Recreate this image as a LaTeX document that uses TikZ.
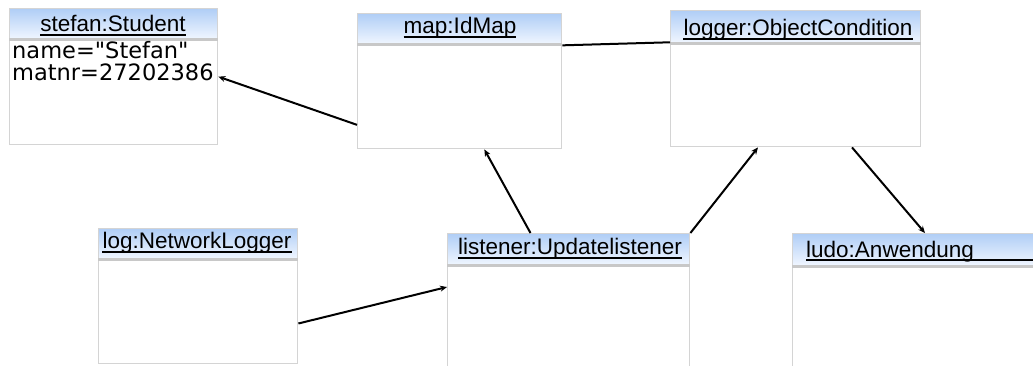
\documentclass[tikz,border=0pt]{standalone}
\usepackage{fontspec}
\setmainfont{Liberation Sans}
\newfontfamily\attrfont{DejaVu Sans}
\usetikzlibrary{arrows.meta,calc}

\definecolor{boxgray}{RGB}{212,212,212}
\definecolor{sepgray}{RGB}{200,200,200}
\definecolor{hdrtop}{RGB}{176,206,246}
\definecolor{hdrbot}{RGB}{240,246,255}

\tikzset{
  objbox/.style={draw=boxgray, line width=1.4pt, fill=white, inner sep=0pt,
    anchor=north west},
  hdr/.style={draw=boxgray, line width=1.4pt, top color=hdrtop, bottom color=hdrbot,
    inner sep=0pt, anchor=north west},
  sepline/.style={draw=sepgray, line width=3pt},
  hdrtext/.style={inner sep=0pt, anchor=base,
    font=\fontsize{22.5}{22}\selectfont},
  attrtext/.style={inner sep=0pt, anchor=base west,
    font=\attrfont\fontsize{22.5}{22}\selectfont},
  uline/.style={line width=1.8pt, black},
  link/.style={line width=2pt, black},
  nav/.style={link, -{Stealth[length=7pt,width=6pt]}},
}

\begin{document}
\begin{tikzpicture}[x=1pt, y=-1pt]
\useasboundingbox (0,0) rectangle (1033,365);
\clip (0,0) rectangle (1033,365);

% object boxes
\node[objbox, minimum width=208pt, minimum height=136pt] (stefan) at (9,8) {};
\node[objbox, minimum width=204pt, minimum height=135pt] (map) at (357,13) {};
\node[objbox, minimum width=250pt, minimum height=136pt] (logger) at (670,10) {};
\node[objbox, minimum width=199pt, minimum height=135pt] (log) at (98,228) {};
\node[objbox, minimum width=242pt, minimum height=150pt] (listener) at (447,233) {};
\node[objbox, minimum width=260pt, minimum height=150pt] (ludo) at (792,233) {};

% header bars
\node[hdr, minimum width=208pt, minimum height=30pt] (stefan-h) at (9,8) {};
\node[hdr, minimum width=204pt, minimum height=30pt] (map-h) at (357,13) {};
\node[hdr, minimum width=250pt, minimum height=32pt] (logger-h) at (670,10) {};
\node[hdr, minimum width=199pt, minimum height=30pt] (log-h) at (98,228) {};
\node[hdr, minimum width=242pt, minimum height=31pt] (listener-h) at (447,233) {};
\node[hdr, minimum width=260pt, minimum height=32pt] (ludo-h) at (792,233) {};

\foreach \h in {stefan-h, map-h, logger-h, log-h, listener-h, ludo-h}
  \draw[sepline] (\h.south west) -- (\h.south east);

% object names
\node[hdrtext] (stefan-t) at (113,31) {stefan:Student};
\node[hdrtext] (map-t) at (460,33) {map:IdMap};
\node[hdrtext] (logger-t) at (798,35) {logger:ObjectCondition};
\node[hdrtext] (log-t) at (197,248) {log:NetworkLogger};
\node[hdrtext] (listener-t) at (570,254) {listener:Updatelistener};
\node[hdrtext, anchor=base west] (ludo-t) at (806,257) {ludo:Anwendung};

\foreach \t in {stefan-t, map-t, logger-t, log-t, listener-t}
  \draw[uline] ([yshift=-4pt]\t.base west) -- ([yshift=-4pt]\t.base east);
\draw[uline] ([yshift=-3pt]ludo-t.base west) -- ([yshift=-3pt]ludo-t.base west -| ludo.east);

% attribute values
\node[attrtext] (stefan-a1) at (12,58) {name="Stefan"};
\node[attrtext] (stefan-a2) at (12,80) {matnr=27202386};

% links
\draw[nav] ($(map.north west)!0.82!(map.south west)$) -- (stefan.east);
\draw[link] ($(map.north east)!0.237!(map.south east)$)
  -- ($(logger.north west)!0.235!(logger.south west)$);
\draw[nav] ($(listener.north west)!0.343!(listener.north east)$)
  -- ($(map.south west)!0.62!(map.south east)$);
\draw[nav] (listener.north east) -- ($(logger.south west)!0.35!(logger.south east)$);
\draw[nav] ($(logger.south west)!0.724!(logger.south east)$)
  -- ([xshift=133pt]ludo.north west);
\draw[nav] ($(log.north east)!0.70!(log.south east)$)
  -- ([yshift=-54pt]listener.north west);
\end{tikzpicture}
\end{document}
